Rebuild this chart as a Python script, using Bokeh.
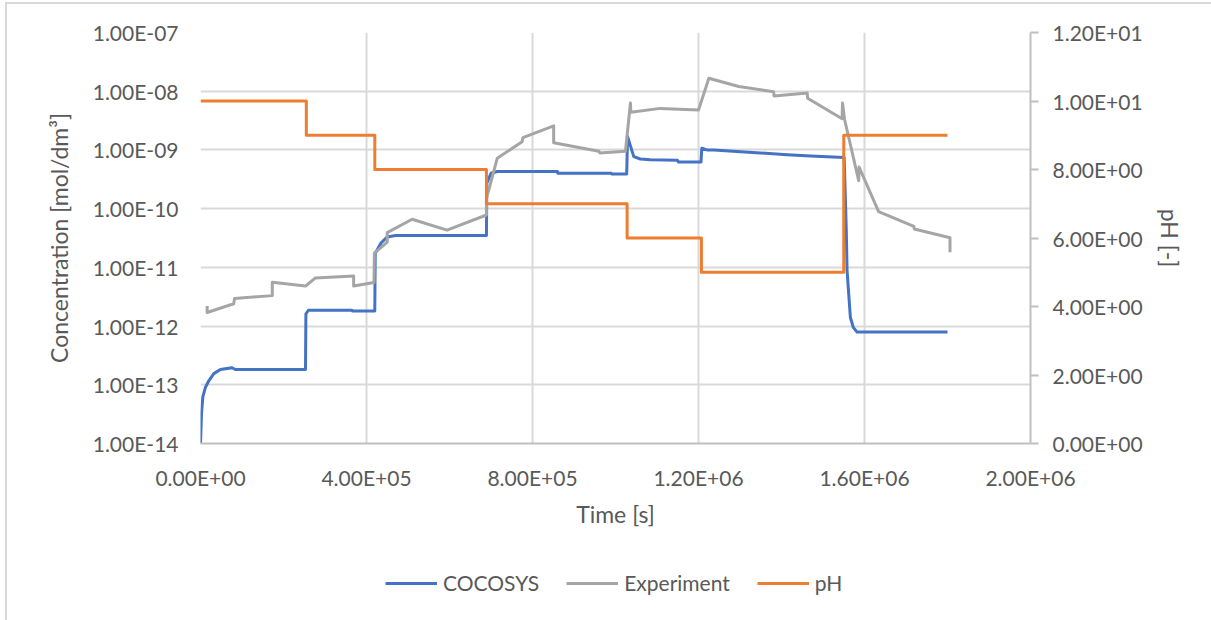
from bokeh.plotting import figure
from bokeh.layouts import column
from bokeh.models import (Range1d, LinearAxis, LinearScale, FixedTicker, CustomJSTickFormatter,
                          Legend, LegendItem)
from bokeh.embed import file_html
from bokeh.resources import INLINE

# ---- data -------------------------------------------------------------
# COCOSYS simulation: time [s], concentration [mol/dm3]
cocosys_time = [0, 2.4e3, 5.6e3, 1.2e4, 2.0e4, 3.2e4, 4.8e4, 7.6e4, 8.4e4, 2.53e5,
                2.54e5, 2.6e5, 3.65e5, 3.66e5, 4.2e5,
                4.21e5, 4.35e5, 4.5e5, 4.7e5, 6.89e5,
                6.90e5, 7.0e5, 7.15e5, 8.6e5, 8.61e5, 9.9e5, 9.91e5, 1.027e6,
                1.029e6, 1.044e6, 1.06e6, 1.084e6, 1.149e6, 1.152e6, 1.206e6,
                1.208e6, 1.22e6, 1.237e6, 1.349e6, 1.414e6, 1.47e6, 1.551e6,
                1.556e6, 1.558e6, 1.562e6, 1.566e6, 1.573e6, 1.582e6, 1.8e6]
cocosys_conc = [1.0e-14, 3.2e-14, 6.2e-14, 9.1e-14, 1.17e-13, 1.55e-13, 1.82e-13, 1.95e-13, 1.82e-13, 1.82e-13,
                1.62e-12, 1.86e-12, 1.86e-12, 1.80e-12, 1.80e-12,
                1.74e-11, 2.6e-11, 3.3e-11, 3.5e-11, 3.5e-11,
                2.75e-10, 4.0e-10, 4.3e-10, 4.3e-10, 4.0e-10, 4.0e-10, 3.9e-10, 3.9e-10,
                1.7e-9, 7.7e-10, 7.0e-10, 6.8e-10, 6.7e-10, 6.2e-10, 6.2e-10,
                1.07e-9, 1.0e-9, 1.0e-9, 8.9e-10, 8.3e-10, 7.9e-10, 7.4e-10,
                4.6e-11, 8.9e-12, 3.5e-12, 1.4e-12, 9.5e-13, 7.9e-13, 7.9e-13]

# Experimental measurements: time [s], concentration [mol/dm3]
exp_time = [1.6e4, 1.6e4, 8.0e4, 8.2e4, 1.73e5, 1.73e5, 2.53e5, 2.77e5, 3.69e5, 3.69e5,
            4.18e5, 4.19e5, 4.5e5, 4.5e5, 5.1e5, 5.94e5, 6.89e5, 6.89e5, 7.15e5, 7.75e5,
            7.77e5, 8.51e5, 8.51e5, 9.6e5, 9.62e5, 1.024e6, 1.036e6, 1.037e6, 1.108e6, 1.2e6,
            1.225e6, 1.297e6, 1.381e6, 1.382e6, 1.462e6, 1.463e6, 1.546e6, 1.547e6, 1.552e6,
            1.586e6, 1.587e6, 1.634e6, 1.719e6, 1.72e6, 1.806e6, 1.806e6]
exp_conc = [2.2e-12, 1.7e-12, 2.4e-12, 2.95e-12, 3.3e-12, 5.6e-12, 4.8e-12, 6.6e-12, 7.1e-12, 4.8e-12,
            5.5e-12, 1.74e-11, 2.7e-11, 3.9e-11, 6.6e-11, 4.3e-11, 7.8e-11, 1.48e-10, 7.2e-10, 1.38e-9,
            1.62e-9, 2.57e-9, 1.32e-9, 9.5e-10, 8.9e-10, 9.5e-10, 6.3e-9, 4.4e-9, 5.1e-9, 4.8e-9,
            1.66e-8, 1.2e-8, 9.8e-9, 8.3e-9, 9.3e-9, 7.6e-9, 3.4e-9, 6.3e-9, 3.3e-9,
            3.0e-10, 5.1e-10, 8.9e-11, 5.0e-11, 4.5e-11, 3.2e-11, 1.8e-11]

# pH programme: value held from each time until the next one
ph_time = [0, 2.55e5, 4.2e5, 6.89e5, 1.028e6, 1.207e6, 1.55e6, 1.8e6]
ph_value = [10, 9, 8, 7, 6, 5, 9, 9]

x_ticks = [0, 4e5, 8e5, 1.2e6, 1.6e6, 2e6]
conc_ticks = [1e-14, 1e-13, 1e-12, 1e-11, 1e-10, 1e-9, 1e-8, 1e-7]
ph_ticks = [0, 2, 4, 6, 8, 10, 12]

series_names = ["COCOSYS", "Experiment", "pH"]

# ---- styling ----------------------------------------------------------
FONT = "Lato"
TEXT = "#595959"
GRID = "#d9d9d9"
AXIS = "#bfbfbf"
BLUE, GREY, ORANGE = "#4472C4", "#A5A5A5", "#ED7D31"

sci = CustomJSTickFormatter(code="""
    const s = Number(tick).toExponential(2).toUpperCase();
    const parts = s.split("E");
    const e = parts[1];
    const sign = e[0] === "-" ? "-" : "+";
    const digits = e.replace("+", "").replace("-", "").padStart(2, "0");
    return parts[0] + "E" + sign + digits;
""")

line_kw = dict(line_width=3, line_join="round")


def add_series(fig):
    """Draw the three series on fig; returns their renderers."""
    r1 = fig.line(cocosys_time, cocosys_conc, line_color=BLUE, **line_kw)
    r2 = fig.line(exp_time, exp_conc, line_color=GREY, **line_kw)
    r3 = fig.step(ph_time, ph_value, mode="after", line_color=ORANGE,
                  y_range_name="ph" if "ph" in fig.extra_y_ranges else "default", **line_kw)
    return [r1, r2, r3]


# ---- main chart ---------------------------------------------------------
p = figure(width=1204, height=540, y_axis_type="log",
           x_range=Range1d(0, 2e6), y_range=Range1d(1e-14, 1e-7),
           output_backend="svg", toolbar_location=None,
           min_border_left=193, min_border_right=181,
           min_border_top=28, min_border_bottom=101)
p.extra_y_ranges = {"ph": Range1d(0, 12)}
p.extra_y_scales = {"ph": LinearScale()}
p.outline_line_color = None
p.background_fill_color = "white"
p.border_fill_color = "white"

# bottom axis
xa = p.xaxis[0]
xa.ticker = FixedTicker(ticks=x_ticks, minor_ticks=[])
xa.formatter = sci
xa.axis_label = "Time [s]"
xa.axis_line_color = AXIS
xa.axis_line_width = 2
xa.major_tick_line_color = None
xa.minor_tick_line_color = None
xa.major_label_standoff = 15
xa.axis_label_standoff = 7

# left axis (log)
ya = p.yaxis[0]
ya.ticker = FixedTicker(ticks=conc_ticks, minor_ticks=[])
ya.formatter = sci
ya.axis_label = "Concentration [mol/dm³]"
ya.axis_line_color = None
ya.major_tick_line_color = None
ya.minor_tick_line_color = None
ya.major_label_standoff = 16
ya.axis_label_standoff = 17

# right axis (pH)
ra = LinearAxis(y_range_name="ph", axis_label="pH [-]",
                ticker=FixedTicker(ticks=ph_ticks, minor_ticks=[]), formatter=sci)
ra.axis_line_color = AXIS
ra.axis_line_width = 2
ra.major_tick_line_color = AXIS
ra.major_tick_line_width = 2
ra.major_tick_out = 8
ra.major_tick_in = 0
ra.minor_tick_line_color = None
ra.major_label_standoff = 14
ra.axis_label_standoff = 10
p.add_layout(ra, "right")

for ax in (xa, ya, ra):
    ax.major_label_text_font = FONT
    ax.major_label_text_font_size = "21px"
    ax.major_label_text_color = TEXT
    ax.axis_label_text_font = FONT
    ax.axis_label_text_font_size = "23px"
    ax.axis_label_text_font_style = "normal"
    ax.axis_label_text_color = TEXT

p.xgrid.grid_line_color = GRID
p.xgrid.grid_line_width = 2
p.ygrid.grid_line_color = GRID
p.ygrid.grid_line_width = 2

add_series(p)

# ---- legend strip under the chart ----------------------------------------
# its frame lines up with the chart's frame; the series sit outside its
# x range, so only the legend swatches and labels show
leg = figure(width=1204, height=76, x_range=Range1d(-2, -1), y_range=Range1d(0, 1),
             output_backend="svg", toolbar_location=None,
             x_axis_location=None, y_axis_location=None,
             min_border_left=193, min_border_right=181,
             min_border_top=0, min_border_bottom=0)
leg.outline_line_color = None
leg.grid.visible = False
leg.background_fill_color = "white"
leg.border_fill_color = "white"
swatches = add_series(leg)

legend = Legend(items=[LegendItem(label=n, renderers=[r]) for n, r in zip(series_names, swatches)],
                orientation="horizontal", location=(185, 25),
                glyph_width=52, glyph_height=20, label_height=20,
                label_standoff=6, spacing=27, padding=0, margin=0,
                border_line_color=None, background_fill_alpha=0,
                label_text_font=FONT, label_text_font_size="21px",
                label_text_color=TEXT)
leg.add_layout(legend)

# chart area: light border on the top and left edges
chart = column(p, leg, spacing=0)
chart.styles = {"border-left": "2px solid #d9d9d9", "border-top": "2px solid #d9d9d9",
                "margin-left": "5px", "margin-top": "2px"}

open("out.html", "w").write(file_html(chart, INLINE))
